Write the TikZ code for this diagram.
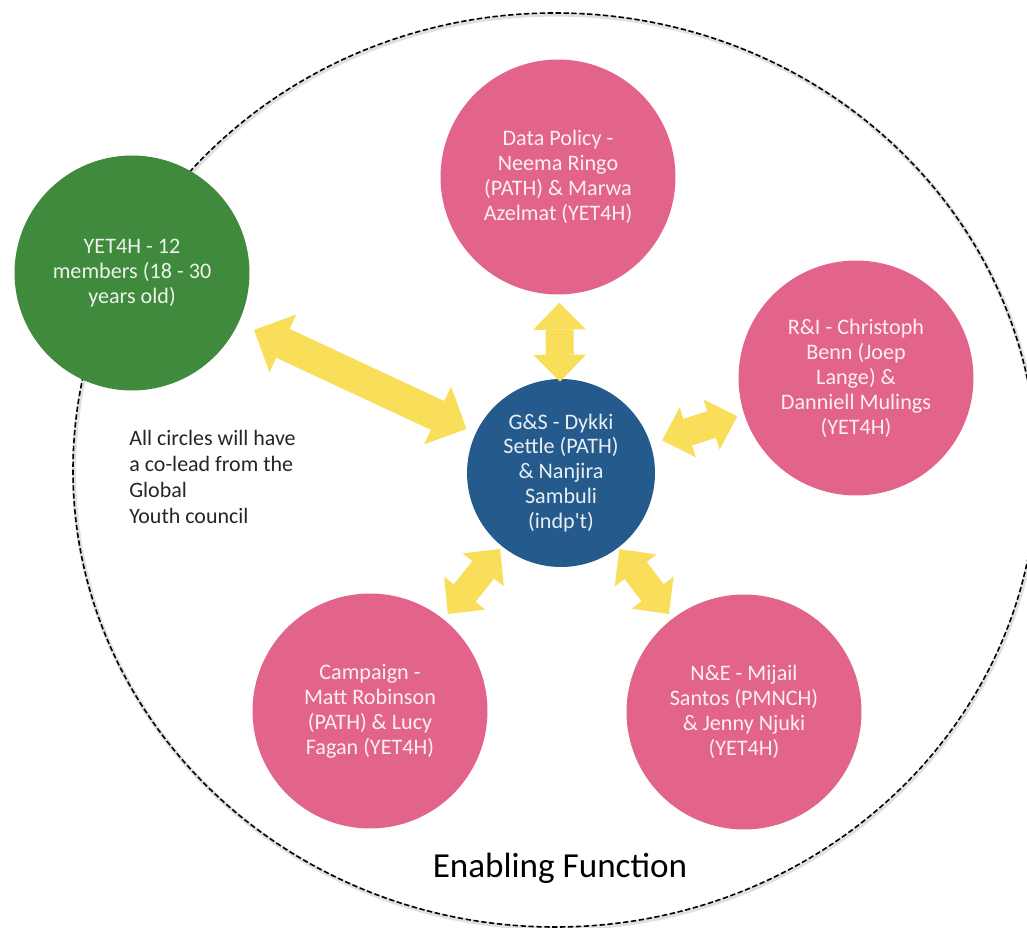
\documentclass[tikz,border=0pt]{standalone}
\usepackage{fontspec}
\setmainfont{Carlito}[Ligatures=TeXOff]
\usetikzlibrary{arrows.meta}
\definecolor{leafgreen}{RGB}{63,138,60}
\definecolor{rosepink}{RGB}{227,100,139}
\definecolor{deepblue}{RGB}{36,91,140}
\definecolor{sunyellow}{RGB}{249,222,89}
\tikzset{>=stealth,
  bubble/.style={circle, minimum size=4.7cm, inner sep=0pt, align=center,
    text=white, text opacity=0.9, font=\fontsize{12.6}{14.2}\selectfont},
  twoway/.style={draw=sunyellow, line width=15.9pt,
    {Triangle[length=15.3pt,width=30pt,line width=0pt]}-{Triangle[length=15.3pt,width=30pt,line width=0pt]}},
  bigway/.style={draw=sunyellow, line width=18.1pt,
    {Triangle[length=18.1pt,width=36.3pt,line width=0pt]}-{Triangle[length=18.1pt,width=36.3pt,line width=0pt]}}}

\begin{document}
\begin{tikzpicture}[x=0.02cm, y=-0.02cm]
\clip (0,0) rectangle (1027,928);
\fill[white] (0,0) rectangle (1027,928);
\draw[black!12, line width=2.4pt] (556,471.5) ellipse [x radius=482, y radius=457];
\draw[dash pattern=on 3pt off 1.5pt, line width=0.9pt] (555,470) ellipse [x radius=482, y radius=457];
\node[bubble, fill=leafgreen] (yet) at (132,273) {YET4H - 12\\members (18 - 30\\years old)};
\node[bubble, fill=rosepink] (dp) at (558,177) {Data Policy -\\Neema Ringo\\(PATH) \& Marwa\\Azelmat (YET4H)};
\node[bubble, fill=rosepink] (ri) at (856,378) {R\&I - Christoph\\Benn (Joep\\Lange) \&\\Danniell Mulings\\(YET4H)};
\node[bubble, fill=rosepink] (camp) at (370,711) {Campaign -\\Matt Robinson\\(PATH) \& Lucy\\Fagan (YET4H)};
\node[bubble, fill=rosepink] (ne) at (744,712) {N\&E - Mijail\\Santos (PMNCH)\\\& Jenny Njuki\\(YET4H)};
\node[bubble, fill=deepblue, minimum size=3.76cm] (gs) at (561,473) {G\&S - Dykki\\Settle (PATH)\\\& Nanjira\\Sambuli\\(indp't)};
\draw[bigway, shorten <=5.7pt, shorten >=9.6pt] (gs) -- (yet);
\draw[twoway, shorten <=-1.7pt, shorten >=4.5pt] (gs) -- (dp);
\draw[twoway, shorten <=6.8pt, shorten >=4pt] (gs) -- (ri);
\draw[twoway, shorten <=1.7pt, shorten >=3.7pt] (gs) -- (camp);
\draw[twoway, shorten <=0.9pt, shorten >=3.2pt] (gs) -- (ne);
\node[anchor=north west, inner sep=0pt, align=left, text=black!85,
  font=\fontsize{12.5}{14.8}\selectfont] (note) at (129,430)
  {All circles will have\\a co-lead from the\\Global\\Youth council};
\node[anchor=base, inner sep=0pt, font=\fontsize{20}{24}\selectfont] (title) at (560,877) {Enabling Function};
\end{tikzpicture}
\end{document}
